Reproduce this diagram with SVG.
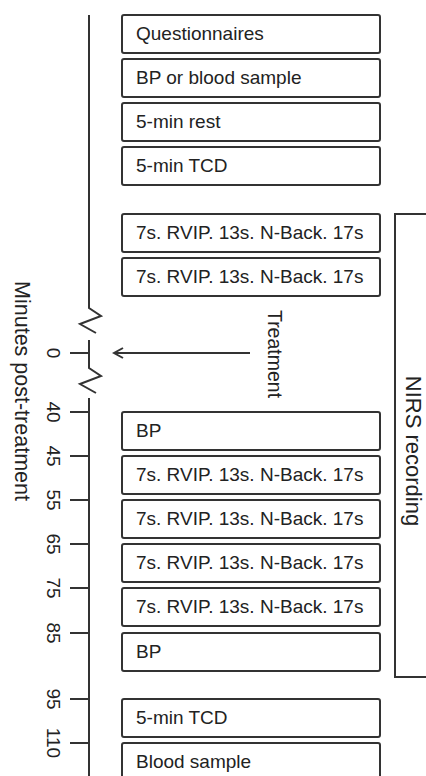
<svg xmlns="http://www.w3.org/2000/svg" width="426" height="776" viewBox="0 0 426 776">
<style>
.box{fill:#fff;stroke:#333;stroke-width:2}
.ln{fill:none;stroke:#333;stroke-width:2}
.t{font-family:"Liberation Sans",Arial,sans-serif;font-size:19px;fill:#222}
.num{font-family:"Liberation Sans",Arial,sans-serif;font-size:19px;fill:#222;text-anchor:middle;dominant-baseline:central}
</style>
<defs>
<marker id="ah" markerWidth="12" markerHeight="12" refX="10" refY="6" orient="auto" markerUnits="userSpaceOnUse">
<path d="M1,1 L10,6 L1,11" fill="none" stroke="#333" stroke-width="2"/>
</marker>
</defs>
<rect width="426" height="776" fill="#fff"/>
<g id="connectors">
<path class="ln" d="M89,15 V308 L101,316 L80,324 L96,333"/>
<path class="ln" d="M89,340 V368 L101,376 L80,384 L96,393"/>
<path class="ln" d="M89,398 V776"/>
<path class="ln" d="M70,353 H89"/>
<path class="ln" d="M70,412 H89 M70,456 H89 M70,500 H89 M70,544 H89 M70,588 H89 M70,633 H89 M70,699 H89 M70,743 H89"/>
<path class="ln" d="M250,353 H114" marker-end="url(#ah)"/>
</g>
<g id="axis-labels">
<text class="num" transform="translate(22,391) rotate(90)" style="font-size:21.5px">Minutes post-treatment</text>
<text class="num" transform="translate(53,353) rotate(90)">0</text>
<text class="num" transform="translate(53,412) rotate(90)">40</text>
<text class="num" transform="translate(53,456) rotate(90)">45</text>
<text class="num" transform="translate(53,500) rotate(90)">55</text>
<text class="num" transform="translate(53,544) rotate(90)">65</text>
<text class="num" transform="translate(53,588) rotate(90)">75</text>
<text class="num" transform="translate(53,633) rotate(90)">85</text>
<text class="num" transform="translate(53,699) rotate(90)">95</text>
<text class="num" transform="translate(53,743) rotate(90)">110</text>
</g>
<g id="treatment"><text class="num" transform="translate(275,354) rotate(90)" style="font-size:19.5px">Treatment</text></g>
<g id="nirs">
<path class="ln" d="M430,214 H395 V677 H430"/>
<text class="num" transform="translate(413,451) rotate(90)" style="font-size:22px">NIRS recording</text>
</g>
<g id="n1"><rect class="box" x="122" y="15" width="258" height="38" rx="2"/><text class="t" x="136" y="40">Questionnaires</text></g>
<g id="n2"><rect class="box" x="122" y="59" width="258" height="38" rx="2"/><text class="t" x="136" y="84">BP or blood sample</text></g>
<g id="n3"><rect class="box" x="122" y="103" width="258" height="38" rx="2"/><text class="t" x="136" y="128">5-min rest</text></g>
<g id="n4"><rect class="box" x="122" y="147" width="258" height="38" rx="2"/><text class="t" x="136" y="172">5-min TCD</text></g>
<g id="n5"><rect class="box" x="122" y="214" width="258" height="38" rx="2"/><text class="t" x="136" y="239">7s. RVIP. 13s. N-Back. 17s</text></g>
<g id="n6"><rect class="box" x="122" y="258" width="258" height="38" rx="2"/><text class="t" x="136" y="283">7s. RVIP. 13s. N-Back. 17s</text></g>
<g id="n7"><rect class="box" x="122" y="412" width="258" height="38" rx="2"/><text class="t" x="136" y="437">BP</text></g>
<g id="n8"><rect class="box" x="122" y="456" width="258" height="38" rx="2"/><text class="t" x="136" y="481">7s. RVIP. 13s. N-Back. 17s</text></g>
<g id="n9"><rect class="box" x="122" y="500" width="258" height="38" rx="2"/><text class="t" x="136" y="525">7s. RVIP. 13s. N-Back. 17s</text></g>
<g id="n10"><rect class="box" x="122" y="544" width="258" height="38" rx="2"/><text class="t" x="136" y="569">7s. RVIP. 13s. N-Back. 17s</text></g>
<g id="n11"><rect class="box" x="122" y="588" width="258" height="38" rx="2"/><text class="t" x="136" y="613">7s. RVIP. 13s. N-Back. 17s</text></g>
<g id="n12"><rect class="box" x="122" y="633" width="258" height="38" rx="2"/><text class="t" x="136" y="658">BP</text></g>
<g id="n13"><rect class="box" x="122" y="699" width="258" height="38" rx="2"/><text class="t" x="136" y="724">5-min TCD</text></g>
<g id="n14"><rect class="box" x="122" y="743" width="258" height="44" rx="2"/><text class="t" x="136" y="768">Blood sample</text></g>
</svg>
